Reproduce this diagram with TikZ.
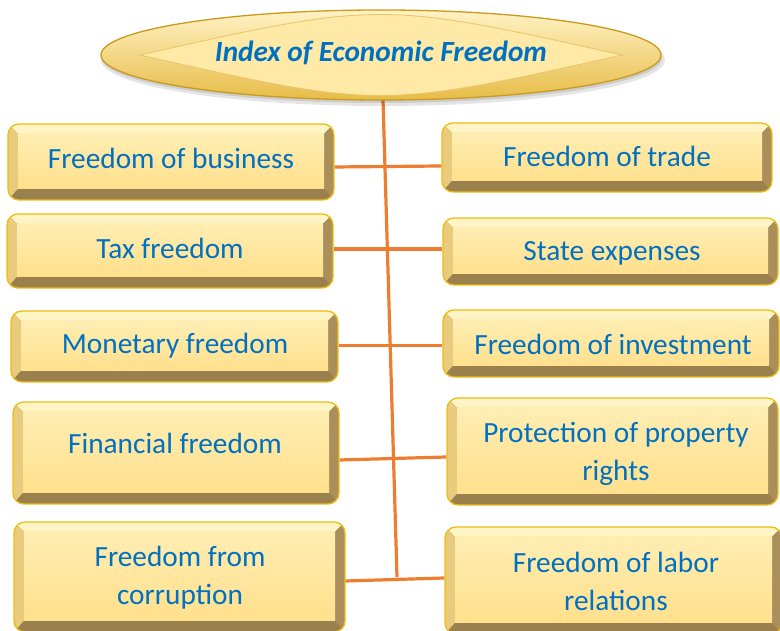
\documentclass[tikz,border=0pt]{standalone}
\usepackage{fontspec}
\setmainfont{Carlito}
\usetikzlibrary{calc,backgrounds,shapes.geometric}
\definecolor{txtblue}{HTML}{0070C0}
\definecolor{lineor}{HTML}{ED7D31}
\definecolor{boxedge}{HTML}{EDBE12}
\definecolor{bevtop}{HTML}{FFF4C6}
\definecolor{bevleft}{HTML}{E8CB7C}
\definecolor{bevright}{HTML}{AA8F5A}
\definecolor{bevbot}{HTML}{9A804C}
\definecolor{facetop}{HTML}{FFEDB2}
\definecolor{facebot}{HTML}{FFE08C}
\definecolor{elledge}{HTML}{C99A1C}
\definecolor{elltop}{HTML}{FFF2C4}
\definecolor{ellbot}{HTML}{E7BC48}
\definecolor{lensfill}{HTML}{FFE9A6}
\definecolor{lensline}{HTML}{E9C468}
\tikzset{
  gbox/.style={rounded corners=11pt, draw=boxedge, line width=1.3pt, inner sep=0pt,
    path picture={
      \path (path picture bounding box.south west) coordinate (bSW)
            (path picture bounding box.north east) coordinate (bNE)
            (path picture bounding box.north west) coordinate (bNW)
            (path picture bounding box.south east) coordinate (bSE);
      \fill[sharp corners, bevbot] (bSW) rectangle (bNE);
      \fill[sharp corners, bevtop] (bNW) -- (bNE) -- ($(bNE)+(-10,-10)$) -- ($(bNW)+(10,-10)$) -- cycle;
      \fill[sharp corners, bevleft] (bNW) -- ($(bNW)+(10,-10)$) -- ($(bSW)+(10,11)$) -- (bSW) -- cycle;
      \fill[sharp corners, bevright] (bNE) -- (bSE) -- ($(bSE)+(-10,11)$) -- ($(bNE)+(-10,-10)$) -- cycle;
      \fill[sharp corners, bevbot] (bSW) -- (bSE) -- ($(bSE)+(-10,11)$) -- ($(bSW)+(10,11)$) -- cycle;
      \shade[sharp corners, top color=facetop, bottom color=facebot] ($(bNW)+(10,-10)$) rectangle ($(bSE)+(-10,11)$);
    }},
  lbl/.style={text=txtblue, font=\fontsize{29.3}{38}\selectfont, align=center, inner sep=0pt},
  conn/.style={draw=lineor, line width=3.2pt},
  titleell/.style={ellipse, draw=elledge, line width=1.3pt, top color=elltop, bottom color=ellbot, inner sep=0pt}
}
\begin{document}
\begin{tikzpicture}[x=1pt,y=1pt]
\useasboundingbox (0,0) rectangle (780,631);
% title ellipse shadow
\fill[black, opacity=0.10] (383,571) ellipse (282 and 46);
\fill[black, opacity=0.10] (382,573) ellipse (280 and 45);
\node[titleell, minimum width=560pt, minimum height=90pt] (T) at (381,576) {};
\filldraw[fill=lensfill, draw=lensline, line width=0.8pt]
  (140,576) .. controls (380,630) .. (622,576) .. controls (380,522) .. (140,576) -- cycle;
\node[text=txtblue, font=\fontsize{29.3}{34}\selectfont\bfseries\itshape, inner sep=0pt] (Tt) at (381,578) {Index of Economic Freedom};
% boxes
\node[gbox, minimum width=326pt, minimum height=76pt] (L1) at (171,469) {};
\node[gbox, minimum width=326pt, minimum height=74pt] (L2) at (170,380) {};
\node[gbox, minimum width=327pt, minimum height=71pt] (L3) at (174.5,284.5) {};
\node[gbox, minimum width=326pt, minimum height=102pt] (L4) at (176,178) {};
\node[gbox, minimum width=331pt, minimum height=110pt] (L5) at (179.5,54) {};
\node[gbox, minimum width=330pt, minimum height=69pt] (R1) at (607,473.5) {};
\node[gbox, minimum width=335pt, minimum height=67pt] (R2) at (610.5,379.5) {};
\node[gbox, minimum width=336pt, minimum height=67pt] (R3) at (611,287.5) {};
\node[gbox, minimum width=331pt, minimum height=107pt] (R4) at (612.5,179.5) {};
\node[gbox, minimum width=337pt, minimum height=107pt] (R5) at (613.5,50.5) {};
% labels
\node[lbl] (L1t) at (171,473) {Freedom of business};
\node[lbl] (L2t) at (170,383) {Tax freedom};
\node[lbl] (L3t) at (175,285) {Monetary freedom};
\node[lbl] (L4t) at (175,188) {Financial freedom};
\node[lbl] (L5t) at (180,53) {Freedom from\\corruption};
\node[lbl] (R1t) at (607,475) {Freedom of trade};
\node[lbl] (R2t) at (612,378) {State expenses};
\node[lbl] (R3t) at (613,287) {Freedom of investment};
\node[lbl] (R4t) at (616,177) {Protection of property\\rights};
\node[lbl] (R5t) at (616,50) {Freedom of labor\\relations};
% connectors
\coordinate (vt) at (383,531);
\coordinate (vb) at (397,54);
\begin{pgfonlayer}{background}
\fill[white] (0,0) rectangle (780,631);
\draw[conn] (vt) -- (vb);
\draw[conn] ([yshift=-5pt]L1.east) -- ([yshift=-8.5pt]R1.west);
\draw[conn] ([yshift=2pt]L2.east) -- ([yshift=2.5pt]R2.west);
\draw[conn] ([yshift=1pt]L3.east) -- ([yshift=-2pt]R3.west);
\draw[conn] ([yshift=-7pt]L4.east) -- ([yshift=-5.5pt]R4.west);
\draw[conn] ([yshift=-4pt]L5.east) -- ([yshift=2.5pt]R5.west);
\end{pgfonlayer}
\end{tikzpicture}
\end{document}
